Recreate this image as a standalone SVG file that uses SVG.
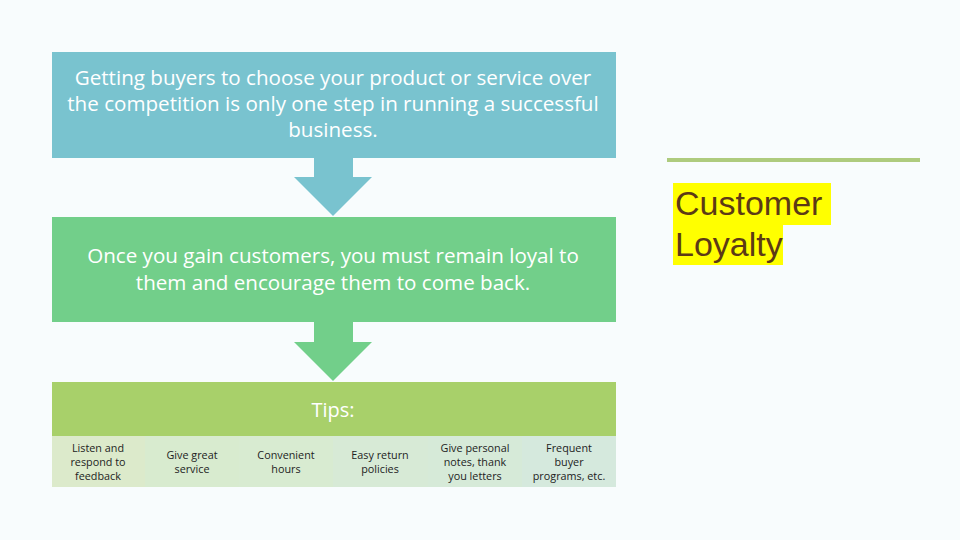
<svg xmlns="http://www.w3.org/2000/svg" width="960" height="540" viewBox="0 0 960 540">
<style>
.t{font-family:"Open Sans","DejaVu Sans",sans-serif;fill:#fff;text-anchor:middle}
.big{font-size:20.6px}
.s{font-family:"Open Sans","DejaVu Sans",sans-serif;font-size:10.8px;fill:#222;text-anchor:middle}
.title{font-family:"Liberation Sans",Arial,sans-serif;font-size:34px;fill:#5C3A16}
</style>
<rect width="960" height="540" fill="#F8FCFD"/>
<g id="box1">
<rect x="52" y="52" width="564" height="106" fill="#79C3CF"/>
<text class="t big" x="333" y="85">Getting buyers to choose your product or service over</text>
<text class="t big" x="333" y="111">the competition is only one step in running a successful</text>
<text class="t big" x="333" y="137">business.</text>
</g>
<g id="box2">
<rect x="52" y="217" width="564" height="105" fill="#72CF8A"/>
<text class="t big" x="333" y="263">Once you gain customers, you must remain loyal to</text>
<text class="t big" x="333" y="290">them and encourage them to come back.</text>
</g>
<g id="connectors">
<polygon points="314,158 353,158 353,177 372,177 333,216 294,177 314,177" fill="#79C3CF"/>
<polygon points="314,322 353,322 353,342 372,342 333,381 294,342 314,342" fill="#72CF8A"/>
</g>
<g id="tips">
<rect x="52" y="382" width="564" height="54" fill="#A8D06A"/>
<text class="t" x="333" y="417" font-size="20">Tips:</text>
</g>
<g id="tip1"><rect x="52" y="436" width="93" height="51" fill="#DCEACB"/>
<text class="s" x="98" y="452">Listen and</text><text class="s" x="98" y="466">respond to</text><text class="s" x="98" y="480">feedback</text></g>
<g id="tip2"><rect x="145" y="436" width="94" height="51" fill="#D8EBCF"/>
<text class="s" x="192" y="459">Give great</text><text class="s" x="192" y="473">service</text></g>
<g id="tip3"><rect x="239" y="436" width="94" height="51" fill="#D8EBD1"/>
<text class="s" x="286" y="459">Convenient</text><text class="s" x="286" y="473">hours</text></g>
<g id="tip4"><rect x="333" y="436" width="95" height="51" fill="#D7EAD6"/>
<text class="s" x="380" y="459">Easy return</text><text class="s" x="380" y="473">policies</text></g>
<g id="tip5"><rect x="428" y="436" width="94" height="51" fill="#D6EAD8"/>
<text class="s" x="475" y="452">Give personal</text><text class="s" x="475" y="466">notes, thank</text><text class="s" x="475" y="480">you letters</text></g>
<g id="tip6"><rect x="522" y="436" width="94" height="51" fill="#D5E9DD"/>
<text class="s" x="569" y="452">Frequent</text><text class="s" x="569" y="466">buyer</text><text class="s" x="569" y="480">programs, etc.</text></g>
<g id="title">
<line x1="667" y1="160" x2="920" y2="160" stroke="#AECB7E" stroke-width="4"/>
<rect x="673" y="183" width="158" height="42" fill="#FFFF00"/>
<rect x="673" y="225" width="110" height="40" fill="#FFFF00"/>
<text class="title" x="675" y="215">Customer</text>
<text class="title" x="675" y="256">Loyalty</text>
</g>
</svg>
